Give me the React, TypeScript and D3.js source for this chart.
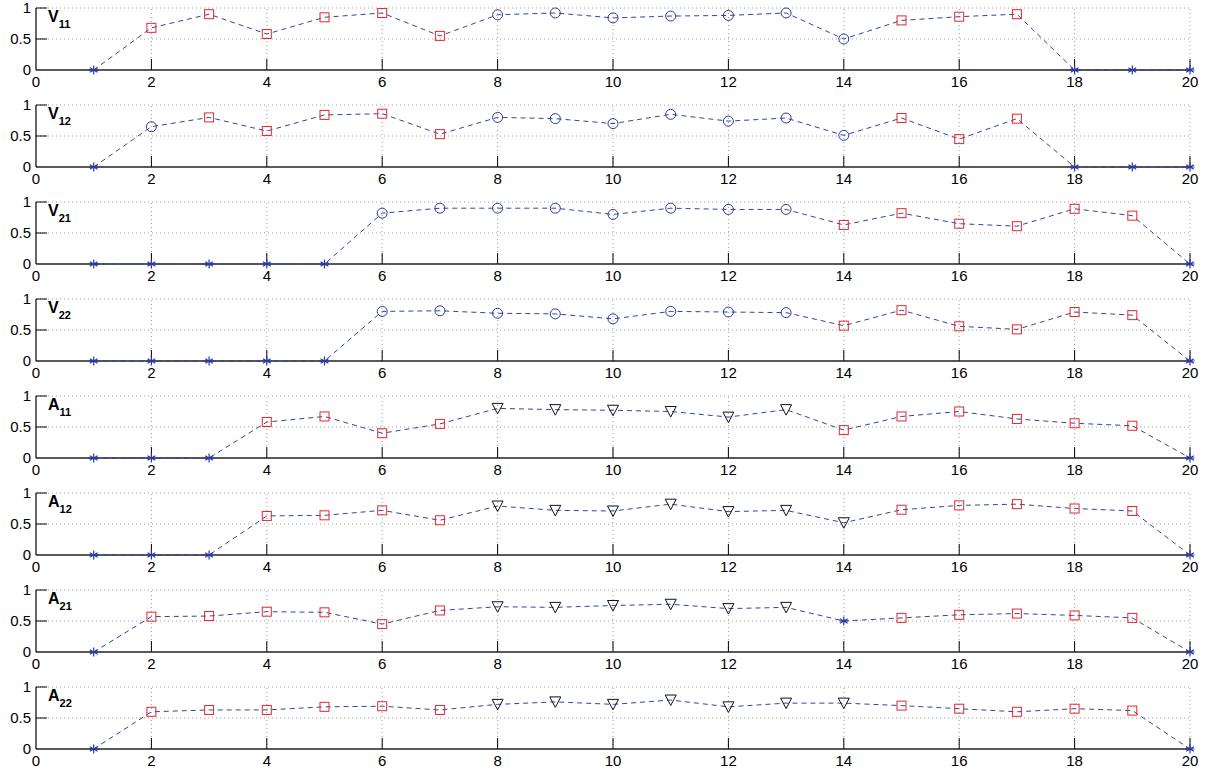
import React, { useEffect, useRef } from 'react';
import * as d3 from 'd3';

// panel names (letter + subscript)
const panelNames = [['V', '11'], ['V', '12'], ['V', '21'], ['V', '22'], ['A', '11'], ['A', '12'], ['A', '21'], ['A', '22']];
const xValues = d3.range(1, 21);
const xTicks = [0, 2, 4, 6, 8, 10, 12, 14, 16, 18, 20];
const yTicks = [0, 0.5, 1];

// values per panel, x = 1..20
const v11 = [0, 0.68, 0.9, 0.58, 0.85, 0.92, 0.55, 0.89, 0.92, 0.84, 0.87, 0.88, 0.92, 0.5, 0.8, 0.86, 0.9, 0, 0, 0];
const v12 = [0, 0.65, 0.8, 0.58, 0.84, 0.86, 0.53, 0.8, 0.78, 0.7, 0.85, 0.74, 0.79, 0.51, 0.79, 0.45, 0.78, 0, 0, 0];
const v21 = [0, 0, 0, 0, 0, 0.82, 0.9, 0.9, 0.9, 0.8, 0.9, 0.88, 0.88, 0.63, 0.82, 0.65, 0.61, 0.89, 0.78, 0];
const v22 = [0, 0, 0, 0, 0, 0.8, 0.81, 0.77, 0.76, 0.68, 0.8, 0.79, 0.78, 0.57, 0.82, 0.56, 0.51, 0.79, 0.74, 0];
const a11 = [0, 0, 0, 0.58, 0.67, 0.4, 0.55, 0.8, 0.78, 0.77, 0.75, 0.66, 0.78, 0.45, 0.67, 0.75, 0.63, 0.56, 0.52, 0];
const a12 = [0, 0, 0, 0.63, 0.64, 0.72, 0.56, 0.79, 0.72, 0.71, 0.82, 0.7, 0.72, 0.52, 0.73, 0.8, 0.82, 0.75, 0.71, 0];
const a21 = [0, 0.57, 0.58, 0.65, 0.64, 0.45, 0.67, 0.73, 0.72, 0.75, 0.77, 0.7, 0.72, 0.5, 0.55, 0.6, 0.62, 0.59, 0.55, 0];
const a22 = [0, 0.6, 0.63, 0.63, 0.68, 0.69, 0.63, 0.72, 0.76, 0.72, 0.79, 0.68, 0.74, 0.74, 0.7, 0.65, 0.6, 0.65, 0.62, 0];

// marker per point: * star, s square, o circle, v triangle
const m11 = '*ssssssooooooosss***';
const m12 = '*osssssooooooosss***';
const m21 = '*****oooooooossssss*';
const m22 = '*****oooooooossssss*';
const mA11 = '***ssssvvvvvvssssss*';
const mA12 = '***ssssvvvvvvvsssss*';
const mA21 = '*ssssssvvvvvv*sssss*';
const mA22 = '*ssssssvvvvvvvsssss*';

const panelValues = [v11, v12, v21, v22, a11, a12, a21, a22];
const panelMarkers = [m11, m12, m21, m22, mA11, mA12, mA21, mA22];

const App = () => {
    const svgRef = useRef(null);

    useEffect(() => {
        const svg = d3.select(svgRef.current);
        svg.selectAll('*').remove();

        const left = 36, right = 1190;
        const top0 = 8, step = 97, h = 62;
        const font = 'Liberation Sans, Arial, Helvetica, sans-serif';

        const x = d3.scaleLinear().domain([0, 20]).range([left, right]);

        panelValues.forEach((vals, p) => {
            const top = top0 + p * step;
            const y = d3.scaleLinear().domain([0, 1]).range([top + h, top]);
            const g = svg.append('g');

            // grid
            g.selectAll('.gx').data(xTicks.filter(t => t > 0)).enter().append('line')
                .attr('x1', d => x(d)).attr('x2', d => x(d))
                .attr('y1', y(0)).attr('y2', y(1))
                .attr('stroke', '#888').attr('stroke-width', 0.8)
                .attr('stroke-dasharray', '1,3');
            g.selectAll('.gy').data([0.5, 1]).enter().append('line')
                .attr('x1', x(0)).attr('x2', x(20))
                .attr('y1', d => y(d)).attr('y2', d => y(d))
                .attr('stroke', '#888').attr('stroke-width', 0.8)
                .attr('stroke-dasharray', '1,3');

            // ticks
            g.selectAll('.tx').data(xTicks.filter(t => t > 0)).enter().append('line')
                .attr('x1', d => x(d)).attr('x2', d => x(d))
                .attr('y1', y(0)).attr('y2', y(0) - 11)
                .attr('stroke', '#000').attr('stroke-width', 1);
            g.selectAll('.ty').data([0.5, 1]).enter().append('line')
                .attr('x1', x(0)).attr('x2', x(0) + 11)
                .attr('y1', d => y(d)).attr('y2', d => y(d))
                .attr('stroke', '#000').attr('stroke-width', 1);

            // spines
            g.append('line').attr('x1', x(0)).attr('x2', x(20)).attr('y1', y(0)).attr('y2', y(0))
                .attr('stroke', '#222').attr('stroke-width', 1.6);
            g.append('line').attr('x1', x(0)).attr('x2', x(0)).attr('y1', y(0)).attr('y2', y(1))
                .attr('stroke', '#000').attr('stroke-width', 1.2);

            // tick labels
            g.selectAll('.lx').data(xTicks).enter().append('text')
                .attr('x', d => x(d)).attr('y', y(0) + 17)
                .attr('text-anchor', 'middle')
                .style('font-family', font).style('font-size', '15px').style('fill', '#000')
                .text(d => d);
            g.selectAll('.ly').data(yTicks).enter().append('text')
                .attr('x', x(0) - 5).attr('y', d => y(d) + 5)
                .attr('text-anchor', 'end')
                .style('font-family', font).style('font-size', '15px').style('fill', '#000')
                .text(d => d);

            // name label
            const [letter, sub] = panelNames[p];
            const lab = g.append('text')
                .attr('x', x(0) + 12).attr('y', top + 14)
                .style('font-family', font).style('font-weight', 'bold').style('fill', '#000');
            lab.append('tspan').style('font-size', '16px').text(letter);
            lab.append('tspan').attr('dy', 6).style('font-size', '11px').text(sub);

            // dashed line
            const data = xValues.map((xv, i) => ({ x: xv, v: vals[i], m: panelMarkers[p][i] }));
            g.append('path').datum(data)
                .attr('fill', 'none').attr('stroke', '#3344a0').attr('stroke-width', 1)
                .attr('stroke-dasharray', '5,4')
                .attr('d', d3.line<any>().x(d => x(d.x)).y(d => y(d.v)));

            // markers
            data.forEach(d => {
                const cx = x(d.x), cy = y(d.v);
                if (d.m === 's') {
                    g.append('rect').attr('x', cx - 4.5).attr('y', cy - 4.5)
                        .attr('width', 9).attr('height', 9)
                        .attr('fill', 'none').attr('stroke', '#e8262a').attr('stroke-width', 1);
                } else if (d.m === 'o') {
                    g.append('circle').attr('cx', cx).attr('cy', cy).attr('r', 5)
                        .attr('fill', 'none').attr('stroke', '#2a3aa0').attr('stroke-width', 1);
                } else if (d.m === 'v') {
                    g.append('path')
                        .attr('d', `M${cx - 5.5},${cy - 5}L${cx + 5.5},${cy - 5}L${cx},${cy + 5.5}Z`)
                        .attr('fill', 'none').attr('stroke', '#111').attr('stroke-width', 1);
                } else {
                    const r = 4.5;
                    const path = d3.path();
                    [0, 60, 120].forEach(a => {
                        const rad = a * Math.PI / 180;
                        path.moveTo(cx + r * Math.sin(rad), cy - r * Math.cos(rad));
                        path.lineTo(cx - r * Math.sin(rad), cy + r * Math.cos(rad));
                    });
                    path.moveTo(cx - r, cy); path.lineTo(cx + r, cy);
                    g.append('path').attr('d', path.toString())
                        .attr('stroke', '#2a3aa0').attr('stroke-width', 1.2).attr('fill', 'none');
                }
            });
        });
    }, []);

    return (
        <svg ref={svgRef} width={1206} height={775}
            style={{ position: 'absolute', left: 0, top: 0, background: '#fff' }} />
    );
};

export default App;
